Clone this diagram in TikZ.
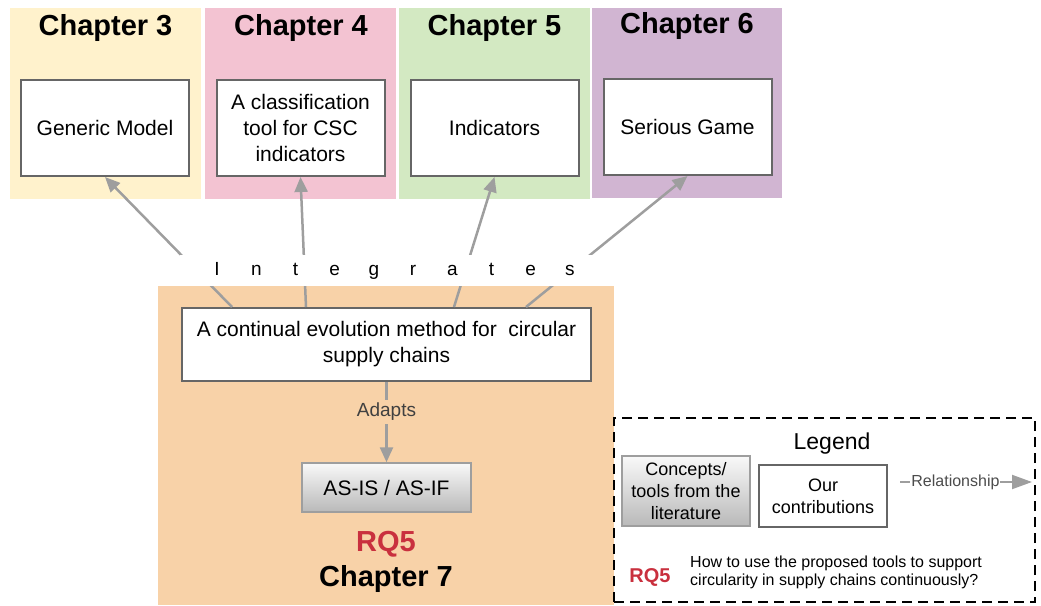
\documentclass[tikz,border=0pt]{standalone}
\usepackage{fontspec}
\setmainfont{Liberation Sans}
\usetikzlibrary{arrows.meta,calc}
\definecolor{cyellow}{HTML}{FFF2CC}
\definecolor{cpink}{HTML}{F3C3D2}
\definecolor{cgreen}{HTML}{D3E9C2}
\definecolor{cpurple}{HTML}{D1B5D2}
\definecolor{corange}{HTML}{F8D2A8}
\definecolor{cborder}{HTML}{666666}
\definecolor{cline}{HTML}{9E9E9E}
\definecolor{cred}{HTML}{C9303E}
\newcommand{\fs}[2]{\fontsize{#1}{#2}\selectfont}
\tikzset{
  panel/.style={draw=none,minimum width=191pt,minimum height=191pt,inner sep=0pt},
  title/.style={font=\bfseries\fs{29}{33},inner sep=0pt},
  inbox/.style={draw=cborder,line width=2pt,fill=white,minimum width=168pt,minimum height=96pt,align=center,font=\fs{21}{26},inner sep=0pt},
  litbox/.style={draw=cline,line width=1.5pt,top color=gray!5,bottom color=gray!55,align=center,inner sep=0pt},
  conn/.style={draw=cline,line width=2.5pt,-{Triangle[length=15pt,width=13pt]}},
}
\begin{document}
\begin{tikzpicture}[x=1pt,y=-1pt]
\useasboundingbox (0,0) rectangle (1041,605);
% chapter panels
\node[panel,fill=cyellow] (p3) at (105.5,103.5) {};
\node[panel,fill=cpink] (p4) at (300.5,103.5) {};
\node[panel,fill=cgreen] (p5) at (494.5,103.5) {};
\node[panel,fill=cpurple,minimum width=190pt,minimum height=190pt] (p6) at (687,103) {};
\node[title] (t3) at (105.5,28) {Chapter 3};
\node[title] (t4) at (301,28) {Chapter 4};
\node[title] (t5) at (494.5,28) {Chapter 5};
\node[title] (t6) at (687,26) {Chapter 6};
\node[inbox] (gm) at (105,128) {Generic Model};
\node[inbox] (ct) at (300.5,128) {A classification\\tool for CSC\\indicators};
\node[inbox] (ind) at (494.5,128) {Indicators};
\node[inbox] (sg) at (687.5,127) {Serious Game};
% chapter 7
\node[panel,fill=corange,minimum width=456pt,minimum height=319pt] (p7) at (386,445.5) {};
\node[inbox,minimum width=409pt,minimum height=73pt] (cont) at (386.5,344.5) {A continual evolution method for\ \ circular\\supply chains};
\node[litbox,minimum width=169pt,minimum height=49pt,font=\fs{21}{26}] (asis) at (386.5,487.5) {AS-IS / AS-IF};
\node[font=\bfseries\fs{29}{33},text=cred,inner sep=0pt] (rq7) at (386,544) {RQ5};
\node[title] (t7) at (386,579) {Chapter 7};
% connectors
\draw[conn] ($(cont.north west)+(51,0)$) -- (gm.south);
\draw[conn] ($(cont.north west)+(125,0)$) -- (ct.south);
\draw[conn] ($(cont.north west)+(273,0)$) -- (ind.south);
\draw[conn] ($(cont.north west)+(345,0)$) -- (sg.south);
\node[fill=white,inner sep=0pt,minimum width=428pt,minimum height=31pt,font=\fs{19}{22}] (integ) at (393.5,270.5)
 {\makebox[39.2pt]{I}\makebox[39.2pt]{n}\makebox[39.2pt]{t}\makebox[39.2pt]{e}\makebox[39.2pt]{g}\makebox[39.2pt]{r}\makebox[39.2pt]{a}\makebox[39.2pt]{t}\makebox[39.2pt]{e}\makebox[39.2pt]{s}};
\draw[conn] (cont.south) -- node[pos=0.37,fill=corange,inner sep=3pt,text=black!75,font=\fs{19}{22}] (adl) {Adapts} (asis.north);
% legend
\node[draw=black,line width=2.5pt,dash pattern=on 10pt off 6pt,minimum width=421pt,minimum height=184pt,inner sep=0pt] (leg) at (824.5,510) {};
\node[font=\fs{23}{26},inner sep=0pt] (legt) at (832,444) {Legend};
\node[litbox,minimum width=128pt,minimum height=70pt,font=\fs{18}{22}] (lit) at (686,491) {Concepts/\\tools from the\\literature};
\node[inbox,minimum width=128pt,minimum height=62pt,font=\fs{18}{22}] (our) at (823,496) {Our\\contributions};
\coordinate (r1) at (900,482);
\coordinate (r2) at (1032,482);
\draw[conn,line width=2pt,-{Triangle[length=20pt,width=14pt]}] (r1) -- node[pos=0.42,fill=white,inner sep=1pt,text=black!70,font=\fs{16}{18}] (rell) {Relationship} (r2);
\node[font=\bfseries\fs{20}{24},text=cred,inner sep=0pt] (rql) at (650,577) {RQ5};
\node[anchor=west,align=left,font=\fs{16}{18},inner sep=0pt] (q) at (690,572) {How to use the proposed tools to support\\circularity in supply chains continuously?};
\end{tikzpicture}
\end{document}
